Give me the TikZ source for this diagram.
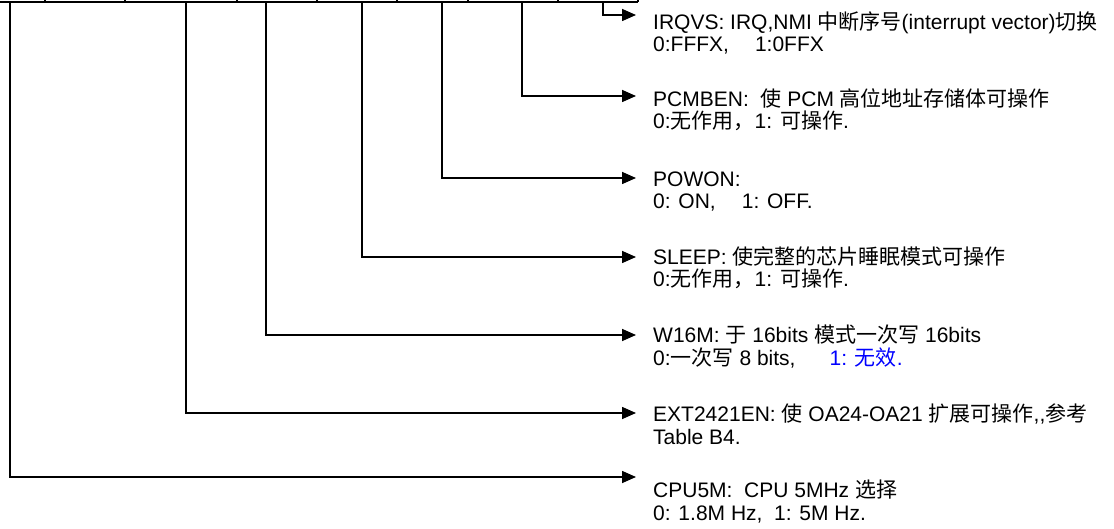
\documentclass[tikz,border=0pt]{standalone}
\usepackage{fontspec}
\setmainfont{Liberation Sans}
\newfontfamily\cjk{Noto Sans CJK SC}
\newcommand\zh[1]{{\cjk #1}}
\usetikzlibrary{arrows.meta}

\begin{document}
\begin{tikzpicture}[
    x=1pt, y=-1pt,
    line/.style={line width=1.6pt},
    arrow/.style={line width=1.6pt, -{Triangle[length=14pt, width=12pt]}},
    desc/.style={anchor=base west, align=left, inner sep=0pt, font=\fontsize{21}{22.5}\selectfont}
]
    \useasboundingbox (0,0) rectangle (1114,529);

    % bottom edge of the register table
    \draw[line] (0,2) -- (638,2);
    \draw[line] (45,-3) -- (45,2) (125,-3) -- (125,2) (237,-3) -- (237,2)
                (317,-3) -- (317,2) (397,-3) -- (397,2) (468,-3) -- (468,2)
                (558,-3) -- (558,2) (638,-3) -- (638,2);

    % bit positions
    \coordinate (cpu5m) at (10,2);
    \coordinate (ext2421en) at (186,2);
    \coordinate (w16m) at (266,2);
    \coordinate (sleep) at (362,2);
    \coordinate (powon) at (442,2);
    \coordinate (pcmben) at (522,2);
    \coordinate (irqvs) at (603,2);

    % arrow tips
    \coordinate (irqvs-tip) at (636,15);
    \coordinate (pcmben-tip) at (636,96);
    \coordinate (powon-tip) at (636,178);
    \coordinate (sleep-tip) at (636,257);
    \coordinate (w16m-tip) at (636,335);
    \coordinate (ext2421en-tip) at (636,413);
    \coordinate (cpu5m-tip) at (636,477);

    % base = last line
    \node[desc] (irqvs-txt) at (653,52) {IRQVS: IRQ,NMI \zh{中断序号}(interrupt vector)\zh{切换}\\0:FFFX,\hspace{26pt}1:0FFX};
    \node[desc] (pcmben-txt) at (653,129) {PCMBEN:\ \ \zh{使} PCM \zh{高位地址存储体可操作}\\0:\zh{无作用，}1: \zh{可操作}.};
    \node[desc] (powon-txt) at (653,209) {POWON:\\0: ON,\hspace{26pt}1: OFF.};
    \node[desc] (sleep-txt) at (653,287) {SLEEP: \zh{使完整的芯片睡眠模式可操作}\\0:\zh{无作用，}1: \zh{可操作}.};
    \node[desc] (w16m-txt) at (653,365) {W16M: \zh{于} 16bits \zh{模式一次写} 16bits\\0:\zh{一次写} 8 bits,\hspace{34pt}\textcolor{blue}{1: \zh{无效}.}};
    \node[desc] (ext2421en-txt) at (653,444) {EXT2421EN: \zh{使} OA24-OA21 \zh{扩展可操作}{,}{,}\zh{参考}\\Table B4.};
    \node[desc] (cpu5m-txt) at (653,520) {CPU5M:\ \ CPU 5MHz \zh{选择}\\0: 1.8M Hz,\ \ 1: 5M Hz.};

    \draw[arrow] (irqvs) |- (irqvs-tip);
    \draw[arrow] (pcmben) |- (pcmben-tip);
    \draw[arrow] (powon) |- (powon-tip);
    \draw[arrow] (sleep) |- (sleep-tip);
    \draw[arrow] (w16m) |- (w16m-tip);
    \draw[arrow] (ext2421en) |- (ext2421en-tip);
    \draw[arrow] (cpu5m) |- (cpu5m-tip);
\end{tikzpicture}
\end{document}
